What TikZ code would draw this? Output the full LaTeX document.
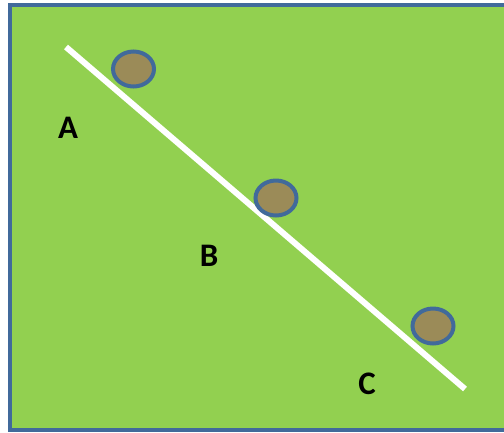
\documentclass[tikz,border=0pt]{standalone}
\usepackage{fontspec}
\setmainfont{Carlito}
\definecolor{bggreen}{RGB}{146,208,80}
\definecolor{edgeblue}{RGB}{65,106,155}
\definecolor{stone}{RGB}{155,139,88}
\tikzset{
  pebble/.style={ellipse, draw=edgeblue, line width=4bp, fill=stone, minimum width=41bp, minimum height=35bp, inner sep=0pt},
  lbl/.style={font=\bfseries\fontsize{33}{33}\selectfont, text=black, inner sep=0pt},
  track/.style={draw=white, line width=6bp}
}
\usetikzlibrary{shapes.geometric}
\begin{document}
\begin{tikzpicture}[x=1bp,y=-1bp]
\useasboundingbox (0,0) rectangle (504,432);
\clip (0,0) rectangle (504,432);
\fill[white] (0,0) rectangle (504,432);
\draw[fill=bggreen, draw=edgeblue, line width=4bp] (9.5,5) rectangle (520,430);
\coordinate (s) at (66,47);
\coordinate (e) at (465,389);
\draw[track] (s) -- (e);
\node[pebble] (pa) at (133.5,69) {};
\node[pebble] (pb) at (276,198) {};
\node[pebble] (pc) at (433,326) {};
\node[lbl] (la) at (68,128) {A};
\node[lbl] (lb) at (209,256) {B};
\node[lbl] (lc) at (367,384) {C};
\end{tikzpicture}
\end{document}
